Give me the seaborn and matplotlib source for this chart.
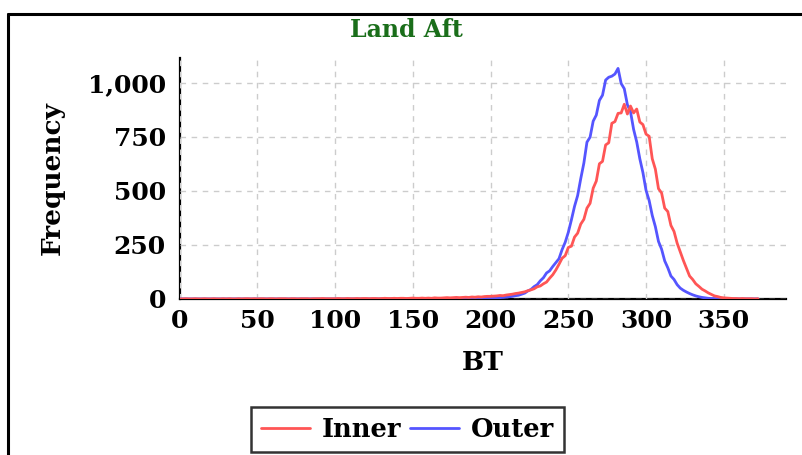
import numpy as np
import pandas as pd
import seaborn as sns
import matplotlib.pyplot as plt
from matplotlib.lines import Line2D

# histogram counts, bins of 2 BT starting at 0
bt = np.arange(0, 374, 2)

inner = [
    0, 0, 1, 0, 0, 1, 0, 0, 1, 0,
    0, 1, 0, 0, 1, 0, 1, 0, 0, 1,
    0, 1, 1, 0, 1, 0, 1, 1, 0, 1,
    1, 0, 1, 1, 1, 0, 1, 1, 0, 1,
    1, 1, 0, 1, 1, 1, 2, 1, 1, 1,
    1, 2, 1, 1, 2, 1, 1, 2, 1, 2,
    2, 1, 2, 2, 1, 2, 3, 2, 2, 3,
    2, 3, 3, 2, 3, 4, 3, 3, 4, 3,
    4, 3, 5, 4, 4, 5, 6, 5, 6, 7,
    6, 7, 8, 7, 9, 8, 10, 9, 11, 12,
    12, 13, 14, 16, 15, 18, 20, 22, 25, 27,
    30, 33, 38, 42, 47, 56, 60, 70, 78, 96,
    112, 134, 160, 188, 200, 238, 244, 286, 304, 346,
    368, 420, 442, 512, 545, 625, 636, 712, 722, 812,
    820, 858, 860, 900, 855, 892, 860, 878, 818, 806,
    762, 752, 648, 600, 510, 490, 420, 404, 340, 312,
    258, 218, 178, 142, 106, 90, 70, 58, 45, 37,
    28, 21, 14, 11, 7, 5, 4, 3, 2, 2,
    1, 2, 1, 1, 1, 0, 1,
]

outer = [
    0, 0, 0, 0, 0, 0, 0, 0, 0, 0,
    0, 0, 0, 0, 0, 0, 0, 0, 0, 0,
    0, 0, 0, 0, 0, 0, 0, 0, 0, 0,
    0, 0, 0, 0, 0, 0, 0, 0, 0, 0,
    0, 0, 0, 0, 0, 0, 0, 0, 0, 0,
    0, 0, 0, 0, 0, 0, 0, 0, 0, 0,
    0, 0, 0, 0, 0, 0, 0, 0, 0, 0,
    0, 0, 0, 0, 0, 0, 0, 0, 0, 0,
    0, 0, 0, 1, 0, 0, 1, 0, 1, 0,
    1, 1, 0, 1, 2, 1, 2, 2, 3, 3,
    3, 4, 5, 6, 7, 9, 10, 12, 15, 17,
    22, 27, 37, 44, 57, 66, 84, 98, 120, 130,
    150, 168, 186, 228, 262, 308, 366, 428, 478, 556,
    628, 725, 748, 822, 850, 918, 942, 1012, 1025, 1030,
    1040, 1066, 996, 972, 898, 866, 784, 726, 648, 584,
    502, 455, 386, 334, 266, 230, 176, 144, 106, 90,
    66, 50, 40, 32, 25, 19, 14, 10, 7, 5,
    3, 2, 2, 1, 1, 1, 0, 1, 0, 0,
    0, 0, 0, 0, 0, 0, 0,
]

df = pd.DataFrame({"BT": bt, "Inner": inner, "Outer": outer})

sns.set_style("white")
plt.rcParams["font.family"] = ["DejaVu Serif"]
plt.rcParams["font.weight"] = "bold"
plt.rcParams["text.color"] = "black"
plt.rcParams["axes.labelcolor"] = "black"

fig = plt.figure(figsize=(8.02, 4.55), dpi=100)
ax = fig.add_axes([0.224, 0.343, 0.756, 0.530])

red = "#ff5555"
blue = "#5555ff"
sns.lineplot(x="BT", y="Outer", data=df, color=blue, lw=2, ax=ax, zorder=3)
sns.lineplot(x="BT", y="Inner", data=df, color=red, lw=2, ax=ax, zorder=4)

ax.set_xlim(0, 390)
ax.set_ylim(0, 1115)
ax.set_xticks([0, 50, 100, 150, 200, 250, 300, 350])
ax.set_yticks([0, 250, 500, 750, 1000])
ax.set_yticklabels(["0", "250", "500", "750", "1,000"])
ax.tick_params(labelsize=18, length=5, width=1.5, colors="black", pad=2)
ax.tick_params(axis="y", pad=5)
for lab in ax.get_xticklabels() + ax.get_yticklabels():
    lab.set_fontweight("bold")

ax.set_axisbelow(False)
ax.grid(True, color="#cccccc", linestyle=(0, (4, 4)), lw=1)
for s in ["top", "right"]:
    ax.spines[s].set_visible(False)
for s in ["left", "bottom"]:
    ax.spines[s].set_color("black")
    ax.spines[s].set_linewidth(1.6)
    ax.spines[s].set_zorder(2)

ax.set_xlabel("BT", fontsize=19, fontweight="bold")
ax.set_ylabel("Frequency", fontsize=19, fontweight="bold")
ax.yaxis.set_label_coords(-0.19, 0.5)
ax.xaxis.set_label_coords(0.5, -0.21)

fig.text(0.507, 0.935, "Land Aft", color="#1a6e1a", fontsize=17,
         fontweight="bold", ha="center", va="center")

# panel border (top and left only visible in this crop)
fig.add_artist(Line2D([0.0105, 0.0105], [0, 0.969], color="black", lw=2.2))
fig.add_artist(Line2D([0.0105, 1], [0.969, 0.969], color="black", lw=2.2))

handles = [Line2D([], [], color=red, lw=2), Line2D([], [], color=blue, lw=2)]
leg = fig.legend(handles, ["Inner", "Outer"], loc="lower center",
                 bbox_to_anchor=(0.508, 0.0), ncol=2, fontsize=18.5,
                 frameon=True, fancybox=False, edgecolor="black",
                 handlelength=1.9, handletextpad=0.45, columnspacing=0.35,
                 borderpad=0.4, borderaxespad=0.1)
leg.get_frame().set_linewidth(1.8)
for t in leg.get_texts():
    t.set_fontweight("bold")

fig.savefig("out.png", dpi=100)
